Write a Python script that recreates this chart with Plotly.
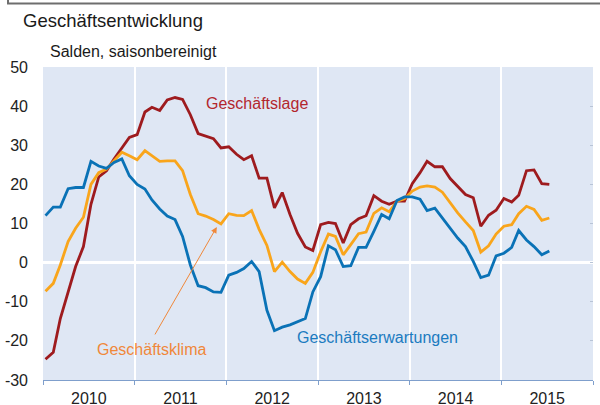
import pandas as pd
import plotly.graph_objects as go

# Monthly data, Jan 2010 - Jul 2015 (balances, seasonally adjusted)
months = pd.date_range("2010-01-01", periods=67, freq="MS") + pd.Timedelta(days=10)

geschaeftslage = [
    -24.7, -22.9, -14.3, -7.5, -1.0, 4.1, 14.9, 21.9, 23.5, 26.5, 29.3, 32.0,
    32.7, 38.5, 39.7, 38.9, 41.6, 42.2, 41.7, 37.8, 33.0, 32.3, 31.7, 29.3,
    29.6, 27.7, 26.3, 27.3, 21.6, 21.6, 14.0, 17.9, 12.3, 7.5, 4.0, 3.1,
    9.7, 10.3, 10.0, 5.0, 9.7, 11.2, 12.0, 17.1, 15.7, 14.9, 15.7, 15.7,
    20.2, 23.0, 25.9, 24.5, 24.5, 21.5, 19.6, 17.4, 16.6, 9.3, 12.1, 13.4,
    16.4, 15.5, 17.2, 23.5, 23.7, 20.2, 20.0,
]
geschaeftsklima = [
    -7.3, -5.3, -0.6, 5.4, 8.8, 11.6, 20.0, 23.0, 23.9, 26.0, 28.2, 27.3,
    26.3, 28.6, 27.3, 25.9, 26.0, 26.0, 23.5, 17.4, 12.5, 11.9, 11.0, 9.9,
    12.5, 12.1, 12.0, 13.3, 8.5, 4.4, -2.3, 0.1, -2.3, -4.2, -5.3, -2.5,
    2.8, 7.3, 6.7, 2.0, 4.6, 7.4, 7.8, 12.6, 14.0, 13.0, 15.7, 16.3,
    18.3, 19.3, 19.6, 19.3, 18.0, 15.3, 12.7, 10.4, 8.2, 2.7, 4.3, 7.3,
    9.3, 9.7, 12.5, 14.4, 13.6, 10.8, 11.4,
]
geschaeftserwartungen = [
    12.0, 14.2, 14.2, 18.9, 19.2, 19.2, 25.9, 24.7, 24.1, 25.6, 26.5, 22.2,
    20.0, 18.8, 16.0, 13.7, 11.9, 11.0, 6.7, -0.6, -5.9, -6.4, -7.5, -7.6,
    -3.2, -2.5, -1.5, 0.3, -2.3, -12.2, -17.4, -16.5, -15.9, -15.2, -14.3, -7.5,
    -3.6, 4.3, 3.3, -1.0, -0.8, 3.9, 3.9, 8.0, 12.3, 11.2, 15.9, 16.8,
    16.8, 16.2, 13.3, 13.9, 11.4, 9.0, 6.3, 4.1, 0.3, -3.8, -3.2, 1.7,
    2.4, 3.9, 8.2, 5.8, 4.1, 2.0, 3.0,
]

y_tickvals = [-30, -20, -10, 0, 10, 20, 30, 40, 50]
y_ticktext = ["-30", "-20", "-10", "0", "10", "20", "30", "40", "50"]

FONT = "Liberation Sans, Arial, sans-serif"
RED, ORANGE, BLUE = "#9e1b1e", "#f9a51b", "#0a72b6"

fig = go.Figure()
fig.add_trace(go.Scatter(x=months, y=geschaeftslage, mode="lines",
                         line=dict(color=RED, width=2.8), name="Geschäftslage"))
fig.add_trace(go.Scatter(x=months, y=geschaeftsklima, mode="lines",
                         line=dict(color=ORANGE, width=2.8), name="Geschäftsklima"))
fig.add_trace(go.Scatter(x=months, y=geschaeftserwartungen, mode="lines",
                         line=dict(color=BLUE, width=2.8), name="Geschäftserwartungen"))
# empty trace to anchor the right-side tick axis
fig.add_trace(go.Scatter(x=[months[0]], y=[None], yaxis="y2", showlegend=False,
                         hoverinfo="skip", mode="lines"))

fig.update_layout(
    width=600, height=405,
    margin=dict(l=43, r=7, t=67, b=25, autoexpand=False),
    paper_bgcolor="white",
    plot_bgcolor="#dfe7f4",
    showlegend=False,
    font=dict(family=FONT, size=16, color="#222222"),
    xaxis=dict(
        type="date",
        range=["2010-01-01", "2016-01-01"],
        dtick="M12", tick0="2010-01-01",
        ticklabelmode="period",
        tickformat="%Y",
        showgrid=True, gridcolor="white", gridwidth=2,
        ticks="outside", ticklen=4, tickcolor="#7f9fcc",
        showline=True, linecolor="#7f9fcc", linewidth=1,
        tickfont=dict(size=16, color="#222222"),
        zeroline=False, automargin=False,
    ),
    yaxis=dict(
        range=[-30, 50],
        tickvals=y_tickvals, ticktext=y_ticktext,
        showgrid=False,
        zeroline=True, zerolinecolor="white", zerolinewidth=2.5,
        ticks="", showline=False,
        tickfont=dict(size=16, color="#222222"),
        ticklabelstandoff=14, automargin=False,
    ),
    yaxis2=dict(
        range=[-30, 50], overlaying="y", side="right",
        tickvals=y_tickvals, showticklabels=False,
        ticks="inside", ticklen=3, tickcolor="#b8c4d6",
        showgrid=False, zeroline=False, showline=False, automargin=False,
    ),
)

annotations = [
    dict(text="Geschäftsentwicklung", x=-0.04, y=1.150, xref="paper", yref="paper",
         xanchor="left", yanchor="middle", showarrow=False,
         font=dict(size=18.5, color="#1a1a1a")),
    dict(text="Salden, saisonbereinigt", x=0.009, y=1.051, xref="paper", yref="paper",
         xanchor="left", yanchor="middle", showarrow=False,
         font=dict(size=16, color="#1a1a1a")),
    dict(text="Geschäftslage", x=0.389, y=0.882, xref="paper", yref="paper",
         xanchor="center", yanchor="middle", showarrow=False,
         font=dict(size=16, color="#b3262d")),
    dict(text="Geschäftsklima", x=0.198, y=0.099, xref="paper", yref="paper",
         xanchor="center", yanchor="middle", showarrow=False,
         font=dict(size=16, color="#f0883a")),
    dict(text="Geschäftserwartungen", x=0.609, y=0.137, xref="paper", yref="paper",
         xanchor="center", yanchor="middle", showarrow=False,
         font=dict(size=16, color="#1b7bc0")),
    dict(text="", x=0.316, y=0.489, xref="paper", yref="paper",
         ax=-62.7, ay=109, axref="pixel", ayref="pixel",
         showarrow=True, arrowhead=2, arrowsize=1.2, arrowwidth=1,
         arrowcolor="#f0883a", standoff=0),
]
fig.update_layout(annotations=annotations)

# thin frame edge at the top of the picture (bottom of a frame above)
fig.add_shape(type="path", xref="paper", yref="paper",
              path="M -0.0636,1.225 L -0.0636,1.203 L 1.03,1.203",
              line=dict(color="#6e6e6e", width=2), layer="above")

fig.write_html(
    "out.html",
    config={"displayModeBar": False},
    post_script="document.body.style.margin='0';document.body.style.overflow='hidden';",
)
